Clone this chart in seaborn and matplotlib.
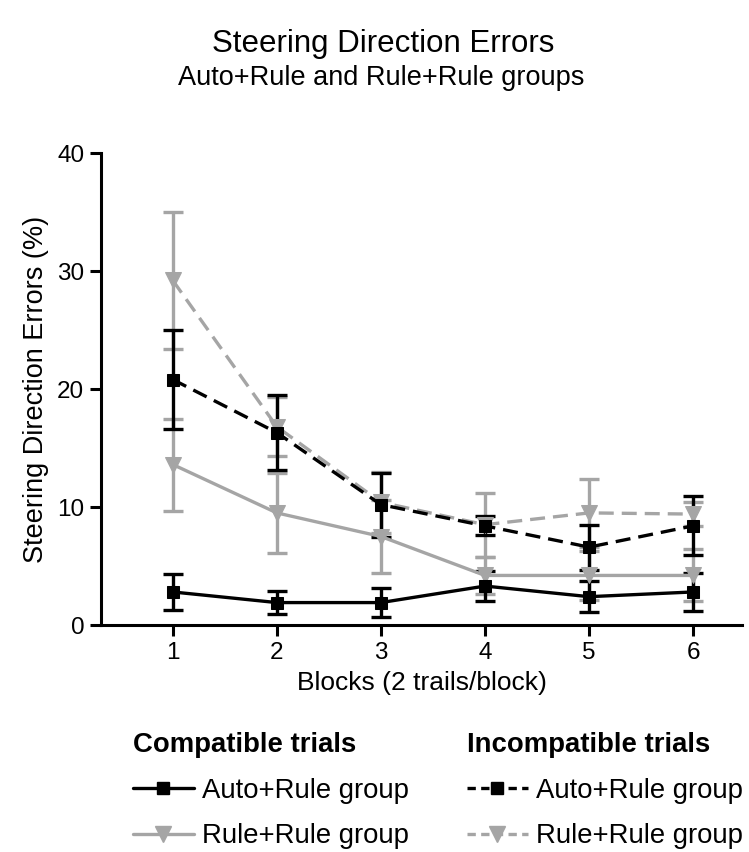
import numpy as np
import pandas as pd
import matplotlib
matplotlib.use("Agg")
import matplotlib.pyplot as plt
import seaborn as sns
from matplotlib.lines import Line2D

# ---- data ----
blocks = [1, 2, 3, 4, 5, 6]
comp_auto = [2.8, 1.9, 1.9, 3.3, 2.4, 2.8]
comp_auto_err = [1.5, 1.0, 1.25, 1.3, 1.3, 1.6]
comp_rule = [13.6, 9.5, 7.5, 4.2, 4.2, 4.2]
comp_rule_err = [3.9, 3.4, 3.1, 1.6, 2.1, 2.2]
incomp_auto = [20.8, 16.3, 10.2, 8.4, 6.6, 8.4]
incomp_auto_err = [4.2, 3.2, 2.7, 0.8, 1.9, 2.5]
incomp_rule = [29.2, 16.8, 10.4, 8.5, 9.5, 9.4]
incomp_rule_err = [5.8, 2.5, 2.6, 2.7, 2.9, 1.0]
yticks = [0, 10, 20, 30, 40]

title = "Steering Direction Errors"
subtitle = "Auto+Rule and Rule+Rule groups"
xlabel = "Blocks (2 trails/block)"
ylabel = "Steering Direction Errors (%)"

sns.set_style("ticks")
plt.rcParams['font.family'] = ['Liberation Sans', 'DejaVu Sans']
plt.rcParams['text.color'] = 'black'
plt.rcParams['axes.labelcolor'] = 'black'
plt.rcParams['xtick.color'] = 'black'
plt.rcParams['ytick.color'] = 'black'

BLACK = "#000000"
GRAY = "#a5a5a5"
LW = 2.4
DASH = (0, (4.5, 2.4))

fig = plt.figure(figsize=(7.49, 8.52), dpi=100)
ax = fig.add_axes([101/749, 1-625/852, (742-101)/749, (625-153)/852])

series = [
    (comp_rule, comp_rule_err, GRAY, 'v', '-', 11),
    (incomp_rule, incomp_rule_err, GRAY, 'v', DASH, 11),
    (comp_auto, comp_auto_err, BLACK, 's', '-', 8.5),
    (incomp_auto, incomp_auto_err, BLACK, 's', DASH, 8.5),
]

for vals, errs, col, mk, ls, ms in series:
    df = pd.DataFrame({"block": blocks, "val": vals})
    ax.errorbar(blocks, vals, yerr=errs, fmt='none', ecolor=col,
                elinewidth=LW, capsize=7, capthick=LW, zorder=2)
    sns.lineplot(data=df, x="block", y="val", ax=ax, color=col, marker=mk,
                 markersize=ms, markeredgecolor=col, markerfacecolor=col,
                 linewidth=LW, linestyle=ls, zorder=3, legend=False)

ax.set_xlim(0.31, 6.47)
ax.set_ylim(0, 40)
ax.set_xticks(blocks)
ax.set_yticks(yticks)
ax.tick_params(axis='both', length=8, width=2.2, labelsize=17.5, pad=4)
for s in ['left', 'bottom']:
    ax.spines[s].set_linewidth(2.2)
    ax.spines[s].set_color('black')
for s in ['right', 'top']:
    ax.spines[s].set_visible(False)
ax.set_xlabel(xlabel, fontsize=19, labelpad=5)
ax.set_ylabel(ylabel, fontsize=19.5, labelpad=6)

fig.text(383/749, 1-44/852, title, ha='center', va='center', fontsize=22.5)
fig.text(381/749, 1-78/852, subtitle, ha='center', va='center', fontsize=19.5)

# legend
fig.text(133/749, 1-745/852, "Compatible trials", ha='left', va='center',
         fontsize=19.8, fontweight='bold')
fig.text(467/749, 1-745/852, "Incompatible trials", ha='left', va='center',
         fontsize=19.8, fontweight='bold')

h_left = [Line2D([], [], color=BLACK, lw=LW, marker='s', ms=8.5),
          Line2D([], [], color=GRAY, lw=LW, marker='v', ms=11)]
h_right = [Line2D([], [], color=BLACK, lw=LW, ls=(0, (2.5, 1.6)), marker='s', ms=8.5),
           Line2D([], [], color=GRAY, lw=LW, ls=(0, (2.5, 1.6)), marker='v', ms=11)]
labels = ["Auto+Rule group", "Rule+Rule group"]
for hs, x0 in [(h_left, 133), (h_right, 467)]:
    fig.legend(hs, labels, loc='upper left', bbox_to_anchor=(x0/749, 1-778/852),
               frameon=False, fontsize=19.8, handlelength=2.2, handletextpad=0.3,
               labelspacing=0.7, borderpad=0, borderaxespad=0)

fig.savefig("out.png", dpi=100)
